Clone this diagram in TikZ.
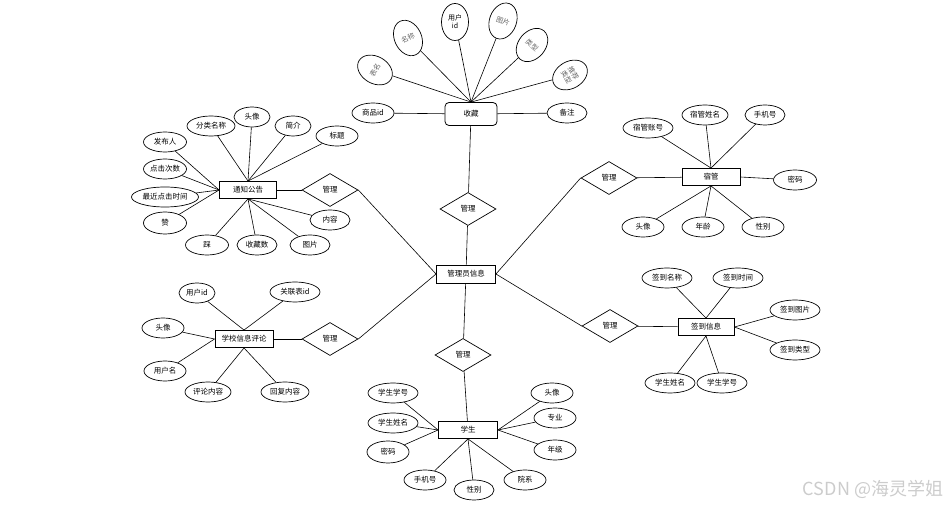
\documentclass[tikz,border=0pt]{standalone}
\usepackage{fontspec}
\newfontfamily\cjk{Noto Sans CJK SC}
\usetikzlibrary{shapes.geometric}

\begin{document}
\begin{tikzpicture}[x=1pt,y=-1pt,
    attr/.style={draw,ellipse,line width=0.7pt,inner sep=0pt,minimum width=42pt,minimum height=20pt,align=center,font=\cjk\fontsize{7.5}{8.5}\selectfont},
    tilt/.style={attr,minimum width=27pt,minimum height=37pt,text=black!60,font=\cjk\fontsize{7}{8}\selectfont},
    ent/.style={draw,line width=0.9pt,inner sep=0pt,minimum width=58pt,minimum height=17pt,font=\cjk\fontsize{7.5}{8.5}\selectfont},
    rel/.style={draw,diamond,line width=0.7pt,inner sep=0pt,minimum width=56pt,minimum height=33pt,font=\cjk\fontsize{7.5}{8.5}\selectfont},
    conn/.style={line width=0.6pt}]
    \useasboundingbox (0,0) rectangle (951,510);

    % 收藏
    \node[ent,rounded corners=4pt,minimum width=52pt,minimum height=23pt,line width=0.8pt] (fav) at (471,114) {收藏};
    \node[attr] (fav1) at (373,113) {商品id};
    \node[attr,minimum width=40pt] (fav2) at (567,113) {备注};
    \node[tilt,rotate=60] (fav3) at (375,70) {表名};
    \node[tilt,rotate=25] (fav4) at (408,38) {名称};
    \node[tilt,text=black] (fav5) at (455,22) {用户\\id};
    \node[tilt,rotate=-20] (fav6) at (503,21) {图片};
    \node[tilt,rotate=-40] (fav7) at (532,45) {类型};
    \node[tilt,rotate=-60] (fav8) at (570,75) {推荐\\类型};

    % 管理员信息 and relations
    \node[ent,minimum width=59pt,minimum height=18pt] (adm) at (466,274) {管理员信息};
    \node[rel] (r1) at (468,209) {管理};
    \node[rel] (r2) at (330,190) {管理};
    \node[rel] (r3) at (609,178) {管理};
    \node[rel] (r4) at (330,339) {管理};
    \node[rel] (r5) at (610,326) {管理};
    \node[rel] (r6) at (463,355) {管理};

    % 通知公告
    \node[ent,minimum width=57pt] (note) at (248,190) {通知公告};
    \node[attr,minimum width=48pt] (n1) at (211,126) {分类名称};
    \node[attr,minimum width=36pt] (n2) at (252,117) {头像};
    \node[attr,minimum width=36pt] (n3) at (293,126) {简介};
    \node[attr] (n4) at (337,136) {标题};
    \node[attr,minimum width=43pt] (n5) at (165,142) {发布人};
    \node[attr,minimum width=43pt] (n6) at (165,169) {点击次数};
    \node[attr,minimum width=67pt] (n7) at (165,197) {最近点击时间};
    \node[attr,minimum width=43pt,minimum height=22pt] (n8) at (165,223) {赞};
    \node[attr,minimum width=43pt] (n9) at (207,245) {踩};
    \node[attr,minimum width=40pt] (n10) at (257,245) {收藏数};
    \node[attr,minimum width=40pt] (n11) at (310,245) {图片};
    \node[attr,minimum width=40pt] (n12) at (330,220) {内容};

    % 宿管
    \node[ent] (dorm) at (711,177) {宿管};
    \node[attr,minimum width=50pt] (d1) at (648,128) {宿管账号};
    \node[attr,minimum width=46pt] (d2) at (705,115) {宿管姓名};
    \node[attr,minimum width=40pt] (d3) at (765,115) {手机号};
    \node[attr,minimum width=43pt] (d4) at (795,180) {密码};
    \node[attr] (d5) at (643,227) {头像};
    \node[attr] (d6) at (703,227) {年龄};
    \node[attr] (d7) at (763,227) {性别};

    % 学校信息评论
    \node[ent] (cmt) at (244,339) {学校信息评论};
    \node[attr,minimum width=36pt] (c1) at (197,293) {用户id};
    \node[attr,minimum width=50pt] (c2) at (295,292) {关联表id};
    \node[attr] (c3) at (163,328) {头像};
    \node[attr] (c4) at (165,371) {用户名};
    \node[attr,minimum width=46pt] (c5) at (208,392) {评论内容};
    \node[attr,minimum width=48pt] (c6) at (285,392) {回复内容};

    % 签到信息
    \node[ent,minimum width=56pt] (sign) at (706,327) {签到信息};
    \node[attr,minimum width=50pt] (s1) at (667,278) {签到名称};
    \node[attr,minimum width=50pt] (s2) at (738,278) {签到时间};
    \node[attr,minimum width=50pt] (s3) at (795,310) {签到图片};
    \node[attr,minimum width=50pt] (s4) at (795,350) {签到类型};
    \node[attr,minimum width=50pt] (s5) at (670,383) {学生姓名};
    \node[attr,minimum width=50pt] (s6) at (722,383) {学生学号};

    % 学生
    \node[ent,minimum width=59pt] (stu) at (468,430) {学生};
    \node[attr,minimum width=50pt] (t1) at (393,393) {学生学号};
    \node[attr,minimum width=50pt] (t2) at (393,423) {学生姓名};
    \node[attr,minimum height=22pt] (t3) at (388,452) {密码};
    \node[attr] (t4) at (425,480) {手机号};
    \node[attr,minimum width=40pt] (t5) at (474,490) {性别};
    \node[attr] (t6) at (525,480) {院系};
    \node[attr] (t7) at (555,450) {年级};
    \node[attr] (t8) at (555,418) {专业};
    \node[attr] (t9) at (552,393) {头像};

    \node[text=black!20,font=\cjk\fontsize{18}{20}\selectfont] (wm) at (873,489) {CSDN @海灵学姐};

    \begin{scope}[conn]
    \draw (fav) -- (fav1) ;
    \draw (fav) -- (fav2) ;
    \draw (fav.north) -- (fav3) ;
    \draw (fav.north) -- (fav4) ;
    \draw (fav.north) -- (fav5) ;
    \draw (fav.north) -- (fav6) ;
    \draw (fav.north) -- (fav7) ;
    \draw (fav.north) -- (fav8) ;
    \draw (fav) -- (r1) ;
    \draw (r1) -- (adm) ;

    \draw (note) -- (r2) ;
    \draw (r2.east) -- (adm.west) ;
    \draw (r3.west) -- (adm.east) ;
    \draw (r3) -- (dorm) ;
    \draw (cmt) -- (r4) ;
    \draw (r4.east) -- (adm.west) ;
    \draw (adm.east) -- (r5.west) ;
    \draw (r5) -- (sign) ;
    \draw (adm) -- (r6) ;
    \draw (r6) -- (stu) ;
    \end{scope}

    \begin{scope}[conn]
    \draw (note.north) -- (n1) ;
    \draw (note.north) -- (n2) ;
    \draw (note.north) -- (n3) ;
    \draw (note.north) -- (n4) ;
    \draw (note.west) -- (n5) ;
    \draw (note.west) -- (n6) ;
    \draw (note.west) -- (n7) ;
    \draw (note.west) -- (n8) ;
    \draw (note.south) -- (n9) ;
    \draw (note.south) -- (n10) ;
    \draw (note.south) -- (n11) ;
    \draw (note.south) -- (n12) ;

    \draw (dorm.north) -- (d1) ;
    \draw (dorm.north) -- (d2) ;
    \draw (dorm.north) -- (d3) ;
    \draw (dorm.east) -- (d4) ;
    \draw (dorm.south) -- (d5) ;
    \draw (dorm.south) -- (d6) ;
    \draw (dorm.south) -- (d7) ;

    \draw (cmt.north) -- (c1) ;
    \draw (cmt.north) -- (c2) ;
    \draw (cmt.west) -- (c3) ;
    \draw (cmt.west) -- (c4) ;
    \draw (cmt.south) -- (c5) ;
    \draw (cmt.south) -- (c6) ;

    \draw (sign.north) -- (s1) ;
    \draw (sign.north) -- (s2) ;
    \draw (sign.east) -- (s3) ;
    \draw (sign.east) -- (s4) ;
    \draw (sign.south) -- (s5) ;
    \draw (sign.south) -- (s6) ;

    \draw (stu.west) -- (t1) ;
    \draw (stu.west) -- (t2) ;
    \draw (stu.west) -- (t3) ;
    \draw (stu.south) -- (t4) ;
    \draw (stu.south) -- (t5) ;
    \draw (stu.south) -- (t6) ;
    \draw (stu.east) -- (t7) ;
    \draw (stu.east) -- (t8) ;
    \draw (stu.east) -- (t9) ;
    \end{scope}
\end{tikzpicture}
\end{document}
